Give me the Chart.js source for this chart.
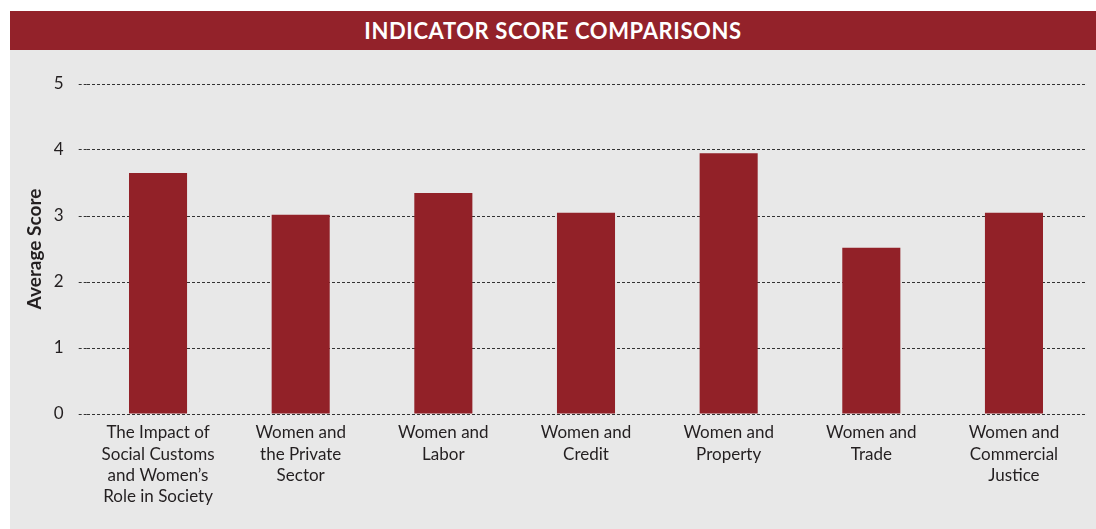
<!DOCTYPE html>
<html>
<head>
<meta charset="utf-8">
<script src="https://cdn.jsdelivr.net/npm/chart.js@4.4.1/dist/chart.umd.min.js"></script>
<style>
  body { margin: 0; background: #fff; width: 1096px; height: 529px; position: relative; overflow: hidden; }
  #titleBar {
    position: absolute; left: 10px; top: 11px; width: 1086px; height: 39px;
    background: #93222a; color: #fff; font-family: Lato, sans-serif; font-weight: bold;
    font-size: 22px; letter-spacing: 0.6px; line-height: 39px; text-align: center;
  }
  #panel { position: absolute; left: 10px; top: 50px; width: 1086px; height: 479px; background: #e8e8e8; }
</style>
</head>
<body>
<div id="titleBar">INDICATOR SCORE COMPARISONS</div>
<div id="panel"><canvas id="scoreChart" width="1086" height="479"></canvas></div>
<script>
// Chart data
const categories = [
  ['The Impact of', 'Social Customs', 'and Women\u2019s', 'Role in Society'],
  ['Women and', 'the Private', 'Sector'],
  ['Women and', 'Labor'],
  ['Women and', 'Credit'],
  ['Women and', 'Property'],
  ['Women and', 'Trade'],
  ['Women and', 'Commercial', 'Justice']
];
const averageScores = [3.65, 3.02, 3.35, 3.05, 3.95, 2.52, 3.05];
const yTicks = [0, 1, 2, 3, 4, 5];

const textColor = '#231f20';
const barColor = '#922128';

const ctx = document.getElementById('scoreChart').getContext('2d');
const chart = new Chart(ctx, {
  type: 'bar',
  data: {
    labels: categories,
    datasets: [{
      label: 'Average Score',
      data: averageScores,
      backgroundColor: barColor,
      borderWidth: 0,
      barPercentage: 0.407,
      categoryPercentage: 1
    }]
  },
  options: {
    responsive: false,
    animation: false,
    layout: { padding: { top: 34, right: 10.7, left: 0, bottom: 0 } },
    plugins: {
      legend: { display: false },
      tooltip: { enabled: false }
    },
    scales: {
      x: {
        grid: { display: false },
        border: { display: false },
        ticks: {
          color: textColor,
          padding: 0,
          maxRotation: 0,
          autoSkip: false,
          font: { family: 'Lato', size: 17, lineHeight: 1.26 }
        },
        afterFit: (scale) => { scale.height = 115; }
      },
      y: {
        min: 0,
        max: 5,
        afterBuildTicks: (scale) => { scale.ticks = yTicks.map(v => ({ value: v })); },
        grid: {
          color: '#333',
          lineWidth: 1,
          tickLength: 8,
          tickColor: '#333',
          tickBorderDash: [3, 2]
        },
        border: { display: false, dash: [3, 2] },
        ticks: {
          color: textColor,
          padding: 15,
          font: { family: 'Lato', size: 17 }
        },
        title: {
          display: true,
          text: 'Average Score',
          color: textColor,
          padding: { top: 13.6, bottom: 0 },
          font: { family: 'Lato', size: 19, weight: 'bold' }
        },
        afterFit: (scale) => { scale.width = 76.7; }
      }
    }
  }
});
</script>
</body>
</html>
